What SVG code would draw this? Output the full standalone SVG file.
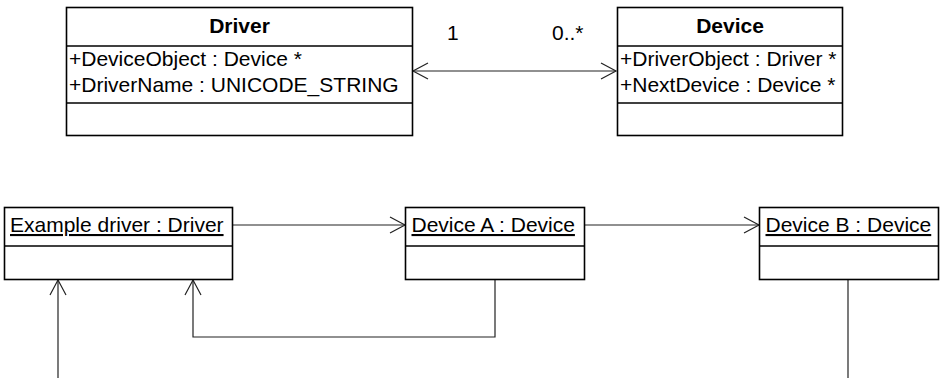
<svg xmlns="http://www.w3.org/2000/svg" width="940" height="378" viewBox="0 0 940 378">
<style>
.box{fill:#fff;stroke:#000;stroke-width:1.6}
.sep{stroke:#000;stroke-width:1.6}
.t{font-family:"Liberation Sans",Arial,sans-serif;font-size:21px;fill:#000}
.b{font-weight:bold}
.u{text-decoration:underline}
.c{fill:none;stroke:#222;stroke-width:1.2}
</style>
<defs>
<marker id="open" viewBox="-18 -10 20 20" refX="0" refY="0" markerWidth="20" markerHeight="20" markerUnits="userSpaceOnUse" orient="auto-start-reverse" overflow="visible">
<path d="M-15,-8 L0,0 L-15,8" fill="none" stroke="#222" stroke-width="1.2"/>
</marker>
</defs>
<g id="connectors">
<line class="c" x1="413" y1="71" x2="616" y2="71" marker-start="url(#open)" marker-end="url(#open)"/>
<text class="t" x="447" y="40">1</text>
<text class="t" x="552" y="40">0..*</text>
<line class="c" x1="232" y1="225" x2="405" y2="225" marker-end="url(#open)"/>
<line class="c" x1="584" y1="225" x2="759" y2="225" marker-end="url(#open)"/>
<polyline class="c" points="495,279 495,337 193,337 193,280" marker-end="url(#open)"/>
<line class="c" x1="58" y1="378" x2="58" y2="280" marker-end="url(#open)"/>
<line class="c" x1="848" y1="279" x2="848" y2="378"/>
</g>
<g id="driver">
<rect class="box" x="66.5" y="7.5" width="346" height="128"/>
<line class="sep" x1="66.5" y1="46" x2="412.5" y2="46"/>
<line class="sep" x1="66.5" y1="103" x2="412.5" y2="103"/>
<text class="t b" x="239.5" y="33" text-anchor="middle">Driver</text>
<text class="t" x="69" y="66">+DeviceObject : Device *</text>
<text class="t" x="69" y="92">+DriverName : UNICODE_STRING</text>
</g>
<g id="device">
<rect class="box" x="617.5" y="7.5" width="225" height="128"/>
<line class="sep" x1="617.5" y1="46" x2="842.5" y2="46"/>
<line class="sep" x1="617.5" y1="103" x2="842.5" y2="103"/>
<text class="t b" x="730" y="33" text-anchor="middle">Device</text>
<text class="t" x="620" y="66">+DriverObject : Driver *</text>
<text class="t" x="620" y="92">+NextDevice : Device *</text>
</g>
<g id="example-driver">
<rect class="box" x="4.5" y="207.5" width="228" height="72"/>
<line class="sep" x1="4.5" y1="246" x2="232.5" y2="246"/>
<text class="t u" x="10" y="232">Example driver : Driver</text>
</g>
<g id="device-a">
<rect class="box" x="405.5" y="207.5" width="179" height="72"/>
<line class="sep" x1="405.5" y1="246" x2="584.5" y2="246"/>
<text class="t u" x="411.5" y="232">Device A : Device</text>
</g>
<g id="device-b">
<rect class="box" x="759.5" y="207.5" width="179" height="72"/>
<line class="sep" x1="759.5" y1="246" x2="938.5" y2="246"/>
<text class="t u" x="765.5" y="232">Device B : Device</text>
</g>
</svg>
